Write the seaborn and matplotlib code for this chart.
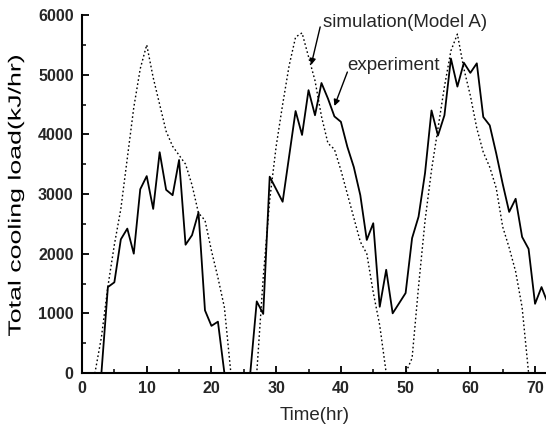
import numpy as np
import pandas as pd
import seaborn as sns
import matplotlib
matplotlib.use("Agg")
import matplotlib.pyplot as plt
from matplotlib.ticker import MultipleLocator
from matplotlib.textpath import TextPath
from matplotlib.patches import PathPatch
from matplotlib.font_manager import FontProperties
from matplotlib.transforms import Affine2D, IdentityTransform

# hourly values
hours = list(range(0, 73))
experiment = [
    0, 0, 0, 0, 1440, 1520, 2240, 2420, 2000, 3080,
    3300, 2750, 3700, 3070, 2980, 3570, 2150, 2310, 2690, 1050,
    790, 860, 0, 0, 0, 0, 0, 1200, 990, 3290,
    3080, 2870, 3630, 4390, 3990, 4740, 4320, 4860, 4600, 4300,
    4210, 3790, 3450, 2980, 2230, 2510, 1110, 1730, 1000, 1170,
    1340, 2260, 2620, 3350, 4400, 3980, 4320, 5270, 4800, 5200,
    5030, 5190, 4290, 4150, 3680, 3170, 2700, 2920, 2280, 2080,
    1160, 1440, 1160,
]
simulation = [
    0, 0, 0, 600, 1450, 2150, 2750, 3600, 4450, 5100,
    5500, 4950, 4500, 4050, 3800, 3650, 3500, 3150, 2680, 2560,
    2050, 1600, 1100, 0, 0, 0, 0, 0, 1600, 2900,
    3800, 4500, 5150, 5630, 5700, 5300, 4900, 4300, 3850, 3750,
    3400, 3000, 2600, 2200, 2000, 1350, 800, 0, 0, 0,
    0, 250, 1450, 2550, 3400, 4100, 4800, 5400, 5680, 5100,
    4650, 4100, 3700, 3450, 3100, 2450, 2100, 1700, 1100, 0,
    0, 0, 0,
]

x_label = "Time(hr)"
y_label = "Total cooling load(kJ/hr)"
sim_label = "simulation(Model A)"
exp_label = "experiment"

df = pd.DataFrame({"hour": hours, "experiment": experiment, "simulation": simulation})

sns.set_style("ticks")
plt.rcParams["font.family"] = ["Liberation Sans", "DejaVu Sans"]

W, H = 546, 434
fig = plt.figure(figsize=(W / 100, H / 100), dpi=100)
ax = fig.add_axes([82 / W, 61 / H, 466 / W, 358 / H])

sns.lineplot(data=df, x="hour", y="simulation", ax=ax, color="black",
             linewidth=1.0, linestyle=(0, (1.2, 1.8)))
sns.lineplot(data=df, x="hour", y="experiment", ax=ax, color="black",
             linewidth=1.3)

ax.set_xlim(0, 72)
ax.set_ylim(0, 6000)
ax.xaxis.set_major_locator(MultipleLocator(10))
ax.xaxis.set_minor_locator(MultipleLocator(5))
ax.yaxis.set_major_locator(MultipleLocator(1000))
ax.yaxis.set_minor_locator(MultipleLocator(500))
ax.tick_params(which="major", direction="in", length=5, width=1.3,
               labelsize=11.5, pad=6, color="black")
ax.tick_params(which="minor", direction="in", length=3, width=1.1, color="black")
for lab in ax.get_xticklabels() + ax.get_yticklabels():
    lab.set_fontweight("bold")

for side in ["top", "right"]:
    ax.spines[side].set_visible(False)
for side in ["left", "bottom"]:
    ax.spines[side].set_linewidth(1.5)
    ax.spines[side].set_color("black")

ax.set_xlabel(x_label, fontsize=13.5, labelpad=8)
ax.set_ylabel("")

# the scanned y label is stretched along its length, so draw it as a path
tp = TextPath((0, 0), y_label, size=17.5, prop=FontProperties(family="Liberation Sans"))
bb = tp.get_extents()
stretch = 280 / bb.width
tr = (Affine2D()
      .translate(-(bb.x0 + bb.x1) / 2, -(bb.y0 + bb.y1) / 2)
      .scale(stretch, 1.0)
      .rotate_deg(90)
      .translate(16, H - 196))
fig.add_artist(PathPatch(tr.transform_path(tp), facecolor="black",
                         edgecolor="none", transform=IdentityTransform()))

# annotations
ax.text(37.2, 5866, sim_label, fontsize=13.5, va="center", ha="left")
ax.annotate("", xy=(35.4, 5162), xytext=(36.8, 5800),
            arrowprops=dict(arrowstyle="-|>", color="black", lw=1.0,
                            mutation_scale=9, shrinkA=0, shrinkB=0))
ax.text(41.0, 5162, exp_label, fontsize=13.5, va="center", ha="left")
ax.annotate("", xy=(39.0, 4475), xytext=(41.0, 5044),
            arrowprops=dict(arrowstyle="-|>", color="black", lw=1.0,
                            mutation_scale=9, shrinkA=0, shrinkB=0))

fig.savefig("out.png", dpi=100)
